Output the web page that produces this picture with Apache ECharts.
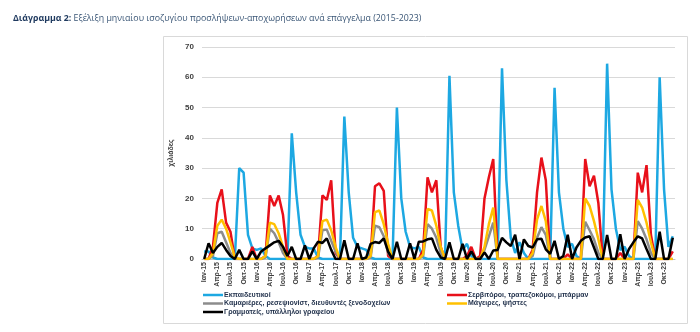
<!DOCTYPE html>
<html><head><meta charset="utf-8">
<script src="https://cdn.jsdelivr.net/npm/echarts@6/dist/echarts.min.js"></script>
<style>html,body{margin:0;padding:0;background:#fff}#c{width:700px;height:332px}</style>
</head><body><div id="c"></div>
<script>
// Tick labels / categories
const monthNames = ['Ιαν','Φεβ','Μαρ','Απρ','Μαϊ','Ιουν','Ιουλ','Αυγ','Σεπ','Οκτ','Νοε','Δεκ'];
const years = ['15','16','17','18','19','20','21','22','23'];
const seriesNames = ['Εκπαιδευτικοί','Σερβιτόροι, τραπεζοκόμοι, μπάρμαν','Καμαριέρες, ρεσεψιονίστ, διευθυντές ξενοδοχείων','Μάγειρες, ψήστες','Γραμματείς, υπάλληλοι γραφείου'];

// Values (thousands), Jan-15 .. Dec-23
const teachers = [
 2.5,2.5,0.5,0,0,0,0,0,30,28.5,8,3.5,
 3,3.5,1,0,0,0,0,0,41.5,22,8,4,
 3.5,3.5,0.5,0,0,0,0,0,47,22,7,4,
 3.5,3,0.5,0,0,0,0,0,50,20,9,4,
 3.5,4,0.5,0,0,0,0,0,60.5,22,11,3,
 5,1,0,0,0,0,0,0,63,26,7,2,
 5.5,2,0,0,0,0,0,0,56.5,22,10,4,
 5,1,0,0,0,0,0,0,64.5,23,10,3,
 4,1,0,0,0,0,0,0,60,23,4,7.5];
const waiters = [
 0,0,4,18.5,23,12,9,0,0,0,0,4,
 0,0,1,21,17.5,21,14.5,1,0,0,0,0,
 0,0,1,21,19.5,26,2,0,0,0,0,0,
 0,0,1,24,25,22.5,1,0,0,0,0,0,
 0,0,3,27,22,26,4,0,0,0,0,0,
 1,4,0,1,20,27,33,0,0,0,0,0,
 0,0,0,3,22,33.5,26,0,0,0,0,1.5,
 0,0,0,33,24,27.5,18.5,0,0,0,0,2,
 0,0,0,28.5,22,31,8,0,0,0,0,2.5];
const housekeeping = [
 0,0,1,8.5,9,5.5,2,0,0,0,0,0,
 0,0,0.5,10,8.5,5.5,2,0,0,0,0,0,
 0,0,0.5,9.5,9.7,6,2.5,0,0,0,0,0,
 0,0,0.5,11,10.5,7.5,2,0,0,0,0,0,
 0,0,1,11.5,10,7,2,0,0,0,0,0,
 0,0,0,0,3,7.5,12,0,0,0,0,0,
 0,0,0,1,7,10.5,8,0,0,0,0,0,
 0,0,0,12.3,9.5,6.5,2,0,0,0,0,0,
 0,0,0,12.5,10,6.5,2,0,0,0,0,0];
const cooks = [
 0,0,2,11,13,10,5.5,0.5,0,0,0,0,
 0,0,1,12,11.5,8.5,4,0,0,0,0,0,
 0,0,1,12.5,13,9.5,4,0,0,0,0,0,
 0,0,1,15.5,16,11.5,5,0,0,0,0,0,
 0,0,1.5,16.5,16,11,4,0,0,0,0,0,
 0,0,0,0,4,11.5,17,0,0,0,0,0,
 0,0,0,2,13,17.5,12.5,0,0,0,0,0,
 0,0,0,20,17.5,12.5,6.5,0,0,0,0,0,
 0,0,0,19.5,17,12,5.5,0,0,0,0,0];
const clerks = [
 0,5.2,2,4,5.3,3,1,0,3,0,0,2.5,
 0,2.5,3.5,4.5,5.5,6,4,1,4,0,0,4.5,
 0,3.5,5.7,5.3,6.8,3,0,0,6.2,0,0,5.2,
 0,0.5,5,5.6,5.3,6.8,2.4,0,5.7,0,0,5.2,
 0,5.7,5.8,6.5,6.8,3,0.5,0,5.5,0,0,5,
 0,2.5,0,0,2.2,0,2.8,3,7,5.5,4.3,8,
 0,6.5,4.3,3.8,6.5,6.7,3.2,1.7,6,0,1,8,
 0,3.8,6,7.1,7.5,3.8,0,0,7.9,0,0,8.2,
 0,3.3,5.5,7.5,6.8,3.3,0,0,9,0,0,7];

const categories = [];
years.forEach(y => monthNames.forEach(m => categories.push(m + '-' + y)));

const colors = ['#1DA8E2','#E8101A','#8C8C8C','#FFC000','#000000'];
const values = [teachers, waiters, housekeeping, cooks, clerks];

const chart = echarts.init(document.getElementById('c'), null, {renderer:'canvas'});
const font = 'Liberation Sans, Arial, sans-serif';
const legendPos = [[203,291.5],[447,291.5],[203,300],[447,300],[203,308.5]];

chart.setOption({
  animation:false,
  title:{
    left:13, top:14, padding:0,
    text:'{b|Διάγραμμα 2:} {n|Εξέλιξη μηνιαίου ισοζυγίου προσλήψεων-αποχωρήσεων ανά επάγγελμα (2015-2023)}',
    textStyle:{fontFamily:'Open Sans', fontSize:8.8, fontWeight:'normal', rich:{
      b:{fontFamily:'Open Sans', fontSize:8.8, fontWeight:'bold', color:'#1F3A5F'},
      n:{fontFamily:'Open Sans', fontSize:8.8, fontWeight:'normal', color:'#3A5676'}
    }}
  },
  graphic:[{type:'rect', silent:true, z:-10,
    shape:{x:163.5, y:36.5, width:524, height:287},
    style:{fill:'none', stroke:'#d9d9d9', lineWidth:1}}],
  legend: seriesNames.map((n,i)=>({
    data:[n], left:legendPos[i][0], top:legendPos[i][1],
    icon:'rect', itemWidth:20, itemHeight:2.5, padding:0,
    textStyle:{fontFamily:font, fontSize:7, fontWeight:'bold', color:'#1F2F4A', padding:[0,0,0,-4]}
  })),
  grid:{left:202, right:25, top:47, bottom:73},
  xAxis:{
    type:'category', data:categories, boundaryGap:true,
    axisTick:{show:false},
    axisLine:{lineStyle:{color:'#BFBFBF', width:1}},
    axisLabel:{interval:2, rotate:90, fontFamily:font, fontSize:7, fontWeight:'bold', color:'#404040', margin:3}
  },
  yAxis:{
    type:'value', min:0, max:70, interval:10,
    name:'χιλιάδες', nameLocation:'middle', nameGap:18, nameRotate:90,
    nameTextStyle:{fontFamily:font, fontSize:7, fontWeight:'bold', color:'#404040'},
    axisLine:{show:false}, axisTick:{show:false},
    splitLine:{lineStyle:{color:'#D9D9D9', width:1}},
    axisLabel:{fontFamily:font, fontSize:8, fontWeight:'bold', color:'#404040', margin:8}
  },
  series: seriesNames.map((n,i)=>({
    name:n, type:'line', data:values[i], symbol:'none', smooth:false,
    lineStyle:{color:colors[i], width:2.5}, itemStyle:{color:colors[i]},
    z: 2+i
  }))
});
</script>
</body></html>
